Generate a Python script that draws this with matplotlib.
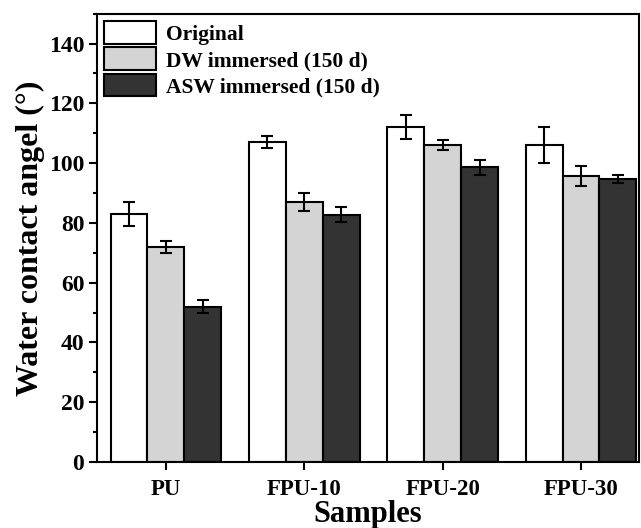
import matplotlib
matplotlib.use("Agg")
import matplotlib.pyplot as plt
import numpy as np
from matplotlib.ticker import MultipleLocator

categories = ["PU", "FPU-10", "FPU-20", "FPU-30"]
series_names = ["Original", "DW immersed (150 d)", "ASW immersed (150 d)"]
original = [83, 107, 112, 106]
original_err = [4, 2, 4, 6]
dw = [72, 87, 106, 95.7]
dw_err = [2, 3, 1.6, 3.3]
asw = [52, 82.8, 98.6, 94.7]
asw_err = [2.2, 2.4, 2.5, 1.3]

plt.rcParams['font.family'] = ['Liberation Serif', 'DejaVu Serif']
plt.rcParams['font.weight'] = 'bold'

fig = plt.figure(figsize=(6.41, 5.28), dpi=100)
ax = fig.add_axes([0.151, 0.125, 0.846, 0.849])

x = np.arange(len(categories))
w = 0.267
colors = ["#ffffff", "#d4d4d4", "#333333"]
data = [(original, original_err), (dw, dw_err), (asw, asw_err)]
for i, ((vals, errs), c, name) in enumerate(zip(data, colors, series_names)):
    ax.bar(x + (i - 1) * w, vals, w, color=c, edgecolor='black', linewidth=1.5,
           label=name, yerr=errs, capsize=4,
           error_kw=dict(ecolor='black', elinewidth=1.5, capthick=1.5), zorder=2)

ax.set_xlim(-0.5, 3.42)
ax.set_ylim(0, 150)
ax.set_xticks(x)
ax.set_xticklabels(categories, fontsize=16.5, fontweight='bold')
ax.yaxis.set_major_locator(MultipleLocator(20))
ax.yaxis.set_minor_locator(MultipleLocator(10))
ax.tick_params(axis='y', which='major', direction='out', length=6, width=1.5, labelsize=17, pad=3)
ax.tick_params(axis='y', which='minor', direction='out', length=3, width=1.5)
ax.tick_params(axis='x', which='major', direction='out', length=6, width=1.5, labelsize=16.5, pad=6)
for lab in ax.get_yticklabels():
    lab.set_fontweight('bold')
for s in ax.spines.values():
    s.set_linewidth(1.5)

ax.set_xlabel("Samples", fontsize=22, fontweight='bold', labelpad=0)
ax.set_ylabel("Water contact angel (°)", fontsize=23, fontweight='bold', labelpad=3)

leg = ax.legend(loc='upper left', frameon=False, fontsize=15.5, handlelength=2.4,
                handleheight=1.25, labelspacing=0.12, handletextpad=0.45,
                borderaxespad=0.35, borderpad=0.0)
for t in leg.get_texts():
    t.set_fontweight('bold')

fig.savefig("out.png", dpi=100)
